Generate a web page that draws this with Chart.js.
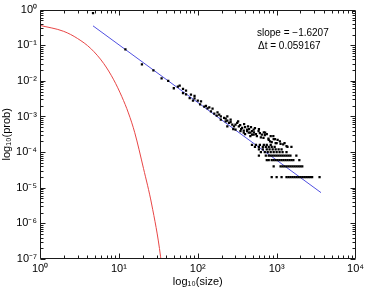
<!DOCTYPE html>
<html>
<head>
<meta charset="utf-8">
<script src="https://cdn.jsdelivr.net/npm/chart.js@4.4.0/dist/chart.umd.min.js"></script>
<style>
  html, body { margin: 0; padding: 0; background: #fff; }
</style>
</head>
<body>
<canvas id="plot" width="367" height="292"></canvas>
<script>
// red curve (model)
var modelSize = [1, 2, 3, 4.4, 6.4, 8.6, 10.9, 13.2, 15.9, 20.5, 26, 33.8, 36];
var modelProb = [0.36, 0.245, 0.154, 0.081, 0.031, 0.0107, 0.0036, 1.26e-3, 3.5e-4, 3.5e-5, 3.5e-6, 1.15e-7, 3e-8];

// blue fitted line
var fitSize = [4.7, 3650];
var fitProb = [0.35, 7.3e-6];

// black dots, small sizes
var headSize = [4.7, 12.1, 19.6, 27.4, 34.8, 42.2, 49.7];
var headProb = [0.80, 0.076, 0.029, 0.0197, 0.0118, 0.010, 0.0062];

// black dots, the cloud along the line
var cloudSize = [56, 59, 65, 65, 71, 71, 79, 82, 87, 91, 91, 100, 107, 110, 121, 127, 133, 140, 147, 154,
  162, 174, 178, 187, 196, 196, 216, 226, 226, 237, 237, 237, 249, 261, 261, 274, 282, 288, 301, 301,
  316, 325, 332, 345, 348, 355, 365, 383, 383, 387, 398, 398, 422, 422, 434, 443, 447, 464, 464, 473,
  487, 487, 511, 511, 516, 531, 547, 562, 590, 596, 613, 631, 649, 681, 688, 708, 714, 750, 787, 794,
  825, 841, 866, 908, 917, 953, 972, 1000, 1029, 1100, 1122, 1211, 1259, 1334, 1372, 1540];
var cloudProb = [0.0069, 0.0073, 0.006, 0.0045, 0.0053, 0.0042, 0.0033, 0.0041, 0.0028, 0.0038, 0.0032, 0.00277, 0.0022, 0.00265, 0.0019, 0.0020, 0.0017, 0.0018, 0.0014, 0.00166,
  0.0012, 0.00106, 0.00131, 0.00113, 0.00101, 8.2e-4, 9.1e-4, 8.7e-4, 7.3e-4, 7.7e-4, 1.0e-3, 5.3e-4, 6.6e-4, 7.0e-4, 8.2e-4, 5.9e-4, 4.4e-4, 5.3e-4, 5.9e-4, 4.3e-4,
  6.6e-4, 7.3e-4, 5.3e-4, 5.7e-4, 3.9e-4, 4.4e-4, 4.8e-4, 4.0e-4, 3.5e-4, 6.1e-4, 5.0e-4, 3.2e-4, 3.9e-4, 4.3e-4, 5.3e-4, 3.5e-4, 4.4e-4, 3.5e-4, 2.8e-4, 5.0e-4,
  3.1e-4, 3.9e-4, 4.3e-4, 3.1e-4, 3.6e-4, 4.7e-4, 3.2e-4, 2.8e-4, 3.9e-4, 4.4e-4, 3.4e-4, 2.6e-4, 3.1e-4, 2.5e-4, 3.6e-4, 3.0e-4, 3.5e-4, 3.2e-4, 2.4e-4, 2.2e-4,
  2.0e-4, 2.8e-4, 1.9e-4, 2.8e-4, 2.3e-4, 2.3e-4, 1.8e-4, 1.8e-4, 2.2e-4, 2.0e-4, 1.7e-4, 1.65e-4, 1.8e-4, 1.48e-4, 1.4e-4, 1.4e-4];

// black dots, the tail: sizes seen once, twice, ... (one row per level)
var tailProb = [2e-5, 4e-5, 6e-5, 8e-5, 1e-4, 1.2e-4, 1.4e-4, 1.6e-4];
var tailRows = [
  [866, 1000, 1155, 1334, 1413, 1496, 1585, 1679, 1778, 1884, 1995, 2113, 2239, 2371, 2512, 2661, 2818, 3500],
  [917, 1122, 1189, 1259, 1334, 1413, 1496, 1585, 1679, 1778, 1884, 1995, 2113],
  [750, 794, 866, 917, 972, 1029, 1090, 1155, 1223, 1296, 1372, 1454, 1540, 1629, 1939],
  [596, 729, 794, 841, 891, 944, 1000, 1059, 1122, 1189, 1259, 1334, 1413, 1496, 1778],
  [631, 708, 771, 841, 917, 1000, 1090, 1189, 1334],
  [596, 668, 750, 813, 891, 972, 1059, 1155],
  [531, 596, 668, 729, 794, 866, 944],
  [487, 547, 613, 688, 750, 841]
];

var xTickVals = [1, 10, 100, 1000, 10000];
var xTickLabels = ['10⁰', '10¹', '10²', '10³', '10⁴'];
var yTickVals = [1e-7, 1e-6, 1e-5, 1e-4, 1e-3, 1e-2, 1e-1, 1];
var yTickLabels = ['10⁻⁷', '10⁻⁶', '10⁻⁵', '10⁻⁴', '10⁻³', '10⁻²', '10⁻¹', '10⁰'];

var noteLines = ['slope = −1.6207', 'Δt = 0.059167'];

var FONT = '"Liberation Sans", Arial, Helvetica, sans-serif';

function pairs(xs, ys) {
  return xs.map(function (x, i) { return { x: x, y: ys[i] }; });
}

var dots = pairs(headSize, headProb).concat(pairs(cloudSize, cloudProb));
tailRows.forEach(function (row, k) {
  row.forEach(function (s) { dots.push({ x: s, y: tailProb[k] }); });
});

// box with inward ticks on all four sides, plus the text note
var boxTicks = {
  id: 'boxTicks',
  afterDraw: function (chart) {
    var ctx = chart.ctx, a = chart.chartArea;
    var sx = chart.scales.x, sy = chart.scales.y;
    var L = Math.round(a.left) + 0.5, R = Math.round(a.right) - 0.5;
    var T = Math.round(a.top) + 0.5, B = Math.round(a.bottom) - 0.5;
    ctx.save();
    ctx.strokeStyle = '#1a1a1a';
    ctx.lineWidth = 1;
    ctx.beginPath();
    ctx.rect(L, T, R - L, B - T);
    var d, m, p, len;
    for (d = 0; d < 4; d++) {
      for (m = 1; m < 10; m++) {
        p = Math.round(sx.getPixelForValue(m * Math.pow(10, d))) + 0.5;
        len = m === 1 ? 5 : 3;
        ctx.moveTo(p, B); ctx.lineTo(p, B - len);
        ctx.moveTo(p, T); ctx.lineTo(p, T + len);
      }
    }
    for (d = -7; d < 0; d++) {
      for (m = 1; m < 10; m++) {
        p = Math.round(sy.getPixelForValue(m * Math.pow(10, d))) + 0.5;
        len = m === 1 ? 5 : 3;
        ctx.moveTo(L, p); ctx.lineTo(L + len, p);
        ctx.moveTo(R, p); ctx.lineTo(R - len, p);
      }
    }
    ctx.stroke();

    ctx.fillStyle = '#000';
    ctx.font = '10px ' + FONT;
    ctx.textBaseline = 'middle';
    ctx.textAlign = 'left';
    ctx.fillText(noteLines[0], a.left + 217, a.top + 24);
    ctx.fillText(noteLines[1], a.left + 218, a.top + 37);
    ctx.restore();
  }
};

var ctx = document.getElementById('plot');
var myChart = new Chart(ctx, {
  type: 'scatter',
  data: {
    datasets: [{
      label: 'data',
      data: dots,
      order: 0,
      pointStyle: 'rect',
      pointRadius: 1.6,
      pointBackgroundColor: '#000',
      pointBorderWidth: 0,
      showLine: false
    }, {
      label: 'fit',
      data: pairs(fitSize, fitProb),
      order: 1,
      showLine: true,
      borderColor: 'rgb(80, 80, 225)',
      borderWidth: 1,
      pointRadius: 0
    }, {
      label: 'model',
      data: pairs(modelSize, modelProb),
      order: 2,
      showLine: true,
      borderColor: 'rgb(232, 70, 70)',
      borderWidth: 1,
      pointRadius: 0,
      cubicInterpolationMode: 'monotone'
    }]
  },
  options: {
    responsive: false,
    animation: false,
    events: [],
    layout: { padding: { left: 0, right: 7, top: 7, bottom: 0 } },
    plugins: {
      legend: { display: false },
      tooltip: { enabled: false }
    },
    scales: {
      x: {
        type: 'logarithmic',
        min: 1,
        max: 10000,
        grid: { display: false, drawTicks: false },
        border: { display: false },
        afterFit: function (scale) { scale.height = 33; },
        afterBuildTicks: function (scale) {
          scale.ticks = xTickVals.map(function (v) { return { value: v }; });
        },
        ticks: {
          autoSkip: false,
          maxRotation: 0,
          padding: 3,
          color: '#000',
          font: { family: FONT, size: 11 },
          callback: function (value) { return xTickLabels[xTickVals.indexOf(value)]; }
        },
        title: {
          display: true,
          text: 'log₁₀(size)',
          color: '#000',
          font: { family: FONT, size: 11 },
          padding: { top: 0, bottom: 3 }
        }
      },
      y: {
        type: 'logarithmic',
        min: 1e-7,
        max: 1,
        grid: { display: false, drawTicks: false },
        border: { display: false },
        afterFit: function (scale) { scale.width = 40; },
        afterBuildTicks: function (scale) {
          scale.ticks = yTickVals.map(function (v) { return { value: v }; });
        },
        ticks: {
          autoSkip: false,
          padding: 3,
          color: '#000',
          font: { family: FONT, size: 11 },
          callback: function (value) {
            for (var i = 0; i < yTickVals.length; i++) {
              if (Math.abs(Math.log10(value) - Math.log10(yTickVals[i])) < 1e-6) return yTickLabels[i];
            }
            return '';
          }
        },
        title: {
          display: true,
          text: 'log₁₀(prob)',
          color: '#000',
          font: { family: FONT, size: 11 },
          padding: { top: 0, bottom: 0 }
        }
      }
    }
  },
  plugins: [boxTicks]
});
</script>
</body>
</html>
